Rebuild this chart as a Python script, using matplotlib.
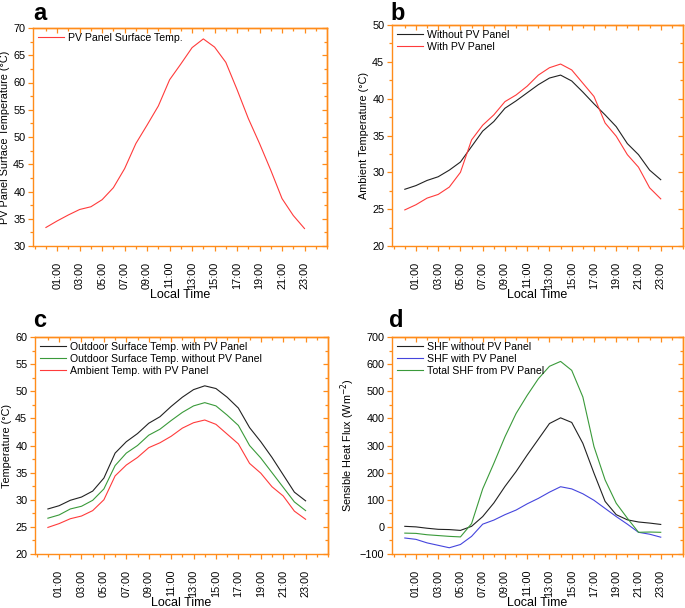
import numpy as np
import matplotlib
matplotlib.use("Agg")
import matplotlib.pyplot as plt
from matplotlib.ticker import MultipleLocator, FixedLocator, NullFormatter

plt.rcParams['font.family'] = ['Liberation Sans', 'DejaVu Sans']

# --- Data ---
hours = list(range(24))
hour_ticks = list(range(1, 24, 2))
hour_labels = ["%02d:00" % h for h in hour_ticks]

pv_surface = [33.4, 34.6, 35.7, 36.7, 37.2, 38.5, 40.7, 44.2, 48.8, 52.2, 55.7, 60.5,
              63.4, 66.4, 68.0, 66.5, 63.7, 58.7, 53.4, 48.8, 43.9, 38.7, 35.6, 33.2]

amb_without = [27.7, 28.2, 28.9, 29.4, 30.3, 31.4, 33.5, 35.6, 36.9, 38.7, 39.7, 40.8,
               41.9, 42.8, 43.2, 42.4, 40.9, 39.3, 37.8, 36.2, 33.9, 32.4, 30.3, 29.0]
amb_with = [24.9, 25.6, 26.5, 27.0, 28.0, 30.0, 34.4, 36.4, 37.8, 39.6, 40.5, 41.7,
            43.2, 44.2, 44.7, 43.9, 42.1, 40.3, 36.7, 34.9, 32.4, 30.7, 27.9, 26.4]

surf_with = [28.3, 28.9, 29.9, 30.5, 31.6, 34.0, 38.6, 40.7, 42.2, 44.1, 45.3, 47.2,
             48.9, 50.3, 51.0, 50.5, 48.9, 46.9, 43.3, 40.7, 37.8, 34.6, 31.4, 29.8]
surf_without = [26.6, 27.2, 28.3, 28.8, 29.9, 32.0, 36.3, 38.6, 40.0, 41.9, 43.0, 44.6,
                46.1, 47.3, 47.9, 47.3, 45.6, 43.7, 40.0, 37.7, 35.0, 32.3, 29.6, 28.0]

shf_without = [2, 0, -5, -9, -10, -13, 2, 38, 88, 149, 204, 265,
               323, 381, 402, 385, 308, 198, 94, 45, 26, 18, 14, 9]
shf_with = [-41, -46, -59, -68, -77, -65, -35, 10, 25, 45, 62, 85,
            105, 128, 148, 140, 122, 98, 68, 38, 10, -20, -27, -38]
shf_total = [-23, -24, -29, -32, -35, -37, 12, 140, 234, 332, 418, 485,
             546, 592, 610, 577, 479, 296, 173, 87, 32, -20, -19, -20]

ORANGE = '#FF8C1A'
RED = '#FF3B3B'
GREEN = '#3A9A3A'
BLUE = '#4545DD'
BLACK = '#222222'

W, H = 685, 608
fig = plt.figure(figsize=(W / 100, H / 100), dpi=100)


def make_ax(l, r, t, b):
    return fig.add_axes([l / W, 1 - b / H, (r - l) / W, (b - t) / H])


def style(ax, ylim, ymajor, ylabel):
    ax.set_xlim(-1.15, 25)
    ax.set_ylim(*ylim)
    ax.xaxis.set_major_locator(FixedLocator(hour_ticks))
    ax.set_xticklabels(hour_labels, rotation=90, fontsize=7.6)
    ax.xaxis.set_minor_locator(FixedLocator([-1] + list(range(0, 25, 2)) + [25]))
    ax.yaxis.set_major_locator(MultipleLocator(ymajor))
    ax.yaxis.set_minor_locator(MultipleLocator(ymajor / 2))
    for s in ax.spines.values():
        s.set_color(ORANGE)
        s.set_linewidth(1.0)
    ax.tick_params(which='both', direction='out', color=ORANGE, labelsize=7.8, pad=2)
    ax.tick_params(which='major', length=3.5, width=0.9)
    ax.tick_params(which='minor', length=2, width=0.9)
    ax.tick_params(axis='x', which='major', pad=8)
    ax.set_xlabel("Local Time", fontsize=9, labelpad=0)
    ax.set_ylabel(ylabel, fontsize=7.8, labelpad=2)
    # mirrored ticks on top and right, pointing inwards
    top = ax.secondary_xaxis('top')
    top.xaxis.set_major_locator(FixedLocator(hour_ticks))
    top.xaxis.set_minor_locator(FixedLocator(list(range(0, 25, 2))))
    top.xaxis.set_major_formatter(NullFormatter())
    right = ax.secondary_yaxis('right')
    right.yaxis.set_major_locator(MultipleLocator(ymajor))
    right.yaxis.set_minor_locator(MultipleLocator(ymajor / 2))
    right.yaxis.set_major_formatter(NullFormatter())
    for sec in (top, right):
        for s in sec.spines.values():
            s.set_color(ORANGE)
            s.set_linewidth(1.0)
        sec.tick_params(which='both', direction='in', color=ORANGE, width=0.9)
        sec.tick_params(which='major', length=3.5)
        sec.tick_params(which='minor', length=2)
    ax.legend(loc='upper left', frameon=False, fontsize=7.6, handlelength=2.5,
              handletextpad=0.35, borderpad=0.2, borderaxespad=0.25, labelspacing=0.2)


lw = 0.8

# a
ax = make_ax(33, 327, 28, 246)
ax.plot(hours, pv_surface, color=RED, lw=lw, label="PV Panel Surface Temp.")
style(ax, (30, 70), 5, "PV Panel Surface Temperature (\u00b0C)")

# b
ax = make_ax(392, 683, 25, 246)
ax.plot(hours, amb_without, color=BLACK, lw=lw, label="Without PV Panel")
ax.plot(hours, amb_with, color=RED, lw=lw, label="With PV Panel")
style(ax, (20, 50), 5, "Ambient Temperature (\u00b0C)")

# c
ax = make_ax(35, 328, 337, 554)
ax.plot(hours, surf_with, color=BLACK, lw=lw, label="Outdoor Surface Temp. with PV Panel")
ax.plot(hours, surf_without, color=GREEN, lw=lw, label="Outdoor Surface Temp. without PV Panel")
ax.plot(hours, amb_with, color=RED, lw=lw, label="Ambient Temp. with PV Panel")
style(ax, (20, 60), 5, "Temperature (\u00b0C)")

# d
ax = make_ax(392, 683, 337, 554)
ax.plot(hours, shf_without, color=BLACK, lw=lw, label="SHF without PV Panel")
ax.plot(hours, shf_with, color=BLUE, lw=lw, label="SHF with PV Panel")
ax.plot(hours, shf_total, color=GREEN, lw=lw, label="Total SHF from PV Panel")
style(ax, (-100, 700), 100, "Sensible Heat Flux (Wm$^{-2}$)")

for lab, x, y in [("a", 33, 20), ("b", 390, 20), ("c", 33, 327), ("d", 389, 327)]:
    fig.text(x / W, 1 - y / H, lab, fontsize=17, fontweight='bold', va='baseline', ha='left')

fig.savefig("out.png", dpi=100)
